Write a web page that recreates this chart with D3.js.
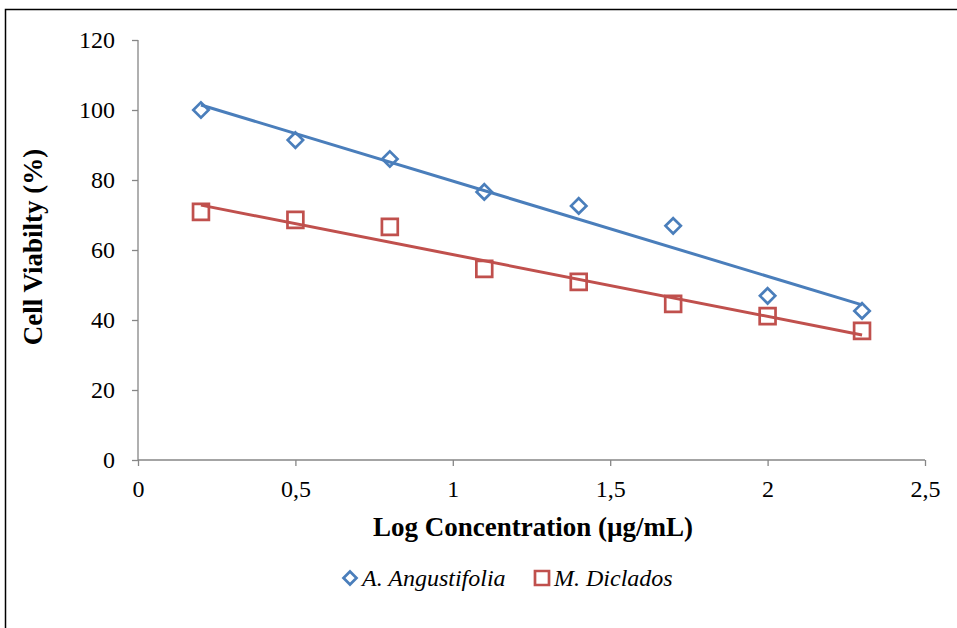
<!DOCTYPE html>
<html>
<head>
<meta charset="utf-8">
<script src="https://cdn.jsdelivr.net/npm/d3@7"></script>
<style>
  body { margin: 0; background: #fff; }
  text { font-family: "Liberation Serif", "Times New Roman", serif; }
</style>
</head>
<body>
<script>
// data
var logConc = [0.2, 0.5, 0.8, 1.1, 1.4, 1.7, 2.0, 2.3];
var angustifolia = [100, 91.4, 86, 76.6, 72.6, 66.9, 46.9, 42.6];
var diclados = [70.9, 68.6, 66.6, 54.6, 50.9, 44.6, 41.1, 36.9];
var xTicks = [0, 0.5, 1, 1.5, 2, 2.5];
var yTicks = [0, 20, 40, 60, 80, 100, 120];

var W = 957, H = 628;
var svg = d3.select("body").append("svg")
  .attr("width", W)
  .attr("height", H);

// outer frame (top and left edges visible)
svg.append("rect")
  .attr("x", 5.5).attr("y", 9.5)
  .attr("width", W + 10).attr("height", H + 10)
  .attr("fill", "#fff").attr("stroke", "#000").attr("stroke-width", 1.5);

var x = d3.scaleLinear().domain([0, 2.5]).range([138, 925]);
var y = d3.scaleLinear().domain([0, 120]).range([460, 40]);

var fmt = function (d) { return String(d).replace(".", ","); };

// y axis
var gy = svg.append("g")
  .attr("transform", "translate(" + x(0) + ",0)")
  .call(d3.axisLeft(y).tickValues(yTicks).tickSize(6).tickPadding(17).tickFormat(d3.format("d")));
// x axis
var gx = svg.append("g")
  .attr("transform", "translate(0," + y(0) + ")")
  .call(d3.axisBottom(x).tickValues(xTicks).tickSize(6).tickPadding(14).tickFormat(fmt));

[gx, gy].forEach(function (g) {
  g.select(".domain").attr("stroke", "#868686").attr("stroke-width", 1.3);
  g.selectAll(".tick line").attr("stroke", "#868686").attr("stroke-width", 1.3);
  g.selectAll(".tick text").attr("fill", "#000")
    .style("font-family", "'Liberation Serif', serif").style("font-size", "24px");
});
gy.select(".domain").attr("d", "M0," + y(120) + "V" + y(0));
gx.select(".domain").attr("d", "M" + x(0) + ",0H" + x(2.5));

// axis titles
svg.append("text")
  .attr("x", 533).attr("y", 536)
  .attr("text-anchor", "middle")
  .style("font-size", "27px").style("font-weight", "bold")
  .text("Log Concentration (µg/mL)");
svg.append("text")
  .attr("transform", "translate(42,247) rotate(-90)")
  .attr("text-anchor", "middle")
  .style("font-size", "27px").style("font-weight", "bold")
  .text("Cell Viabilty (%)");

function fit(xs, ys) {
  var mx = d3.mean(xs), my = d3.mean(ys);
  var sxy = d3.sum(xs, function (v, i) { return (v - mx) * (ys[i] - my); });
  var sxx = d3.sum(xs, function (v) { return (v - mx) * (v - mx); });
  var b = sxy / sxx;
  return function (v) { return my + b * (v - mx); };
}

var series = [
  { name: "A. Angustifolia", values: angustifolia, color: "#4A7EBB", shape: d3.symbolDiamond2, size: 150, legSize: 108 },
  { name: "M. Diclados", values: diclados, color: "#C0504D", shape: d3.symbolSquare2, size: 320, legSize: 250 }
];

series.forEach(function (s) {
  var f = fit(logConc, s.values);
  var ends = [logConc[0], logConc[logConc.length - 1]];
  svg.append("line")
    .attr("x1", x(ends[0])).attr("y1", y(f(ends[0])))
    .attr("x2", x(ends[1])).attr("y2", y(f(ends[1])))
    .attr("stroke", s.color).attr("stroke-width", 3);
});

series.forEach(function (s) {
  var sym = d3.symbol().type(s.shape).size(s.size);
  svg.selectAll(null)
    .data(s.values)
    .enter().append("path")
    .attr("d", sym)
    .attr("transform", function (d, i) { return "translate(" + x(logConc[i]) + "," + y(d) + ")"; })
    .attr("fill", "none")
    .attr("stroke", s.color).attr("stroke-width", 2.7);
});

// legend
var legX = [350, 542];
series.forEach(function (s, i) {
  var sym = d3.symbol().type(s.shape).size(s.legSize);
  svg.append("path")
    .attr("d", sym)
    .attr("transform", "translate(" + legX[i] + ",578)")
    .attr("fill", "none").attr("stroke", s.color).attr("stroke-width", 2.7);
  svg.append("text")
    .attr("x", legX[i] + 12).attr("y", 586)
    .style("font-size", "24px").style("font-style", "italic")
    .text(s.name);
});
</script>
</body>
</html>
